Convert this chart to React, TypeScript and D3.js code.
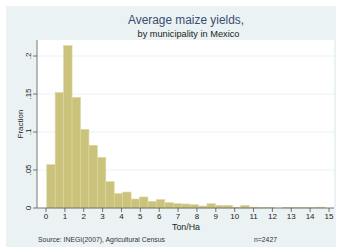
import React from "react";
import * as d3 from "d3";

const binStart = 0.04;
const binWidth = 0.447;
const fractions = [
  0.057, 0.152, 0.2136, 0.1456, 0.1035, 0.0825, 0.0667, 0.0346, 0.019, 0.021,
  0.0118, 0.0145, 0.0088, 0.011, 0.007, 0.0057, 0.0053, 0.0044, 0.0026, 0.0057,
  0.0035, 0.0035, 0.0012, 0.0035, 0.0012, 0.0004, 0.0008, 0.0, 0.0008, 0.0008,
  0.0004, 0.0008, 0.0012,
];
const xTicks = d3.range(0, 16);
const yTicks = [0, 0.05, 0.1, 0.15, 0.2];
const yTickLabels = ["0", ".05", ".1", ".15", ".2"];

export default function App() {
  const W = 337, H = 247;
  const plot = { left: 37, right: 334, top: 40, bottom: 208 };
  const x = d3.scaleLinear().domain([0, 15]).range([46, 329]);
  const y = d3.scaleLinear().domain([0, 0.2]).range([plot.bottom, 56]);
  const font = "'Liberation Sans', Arial, sans-serif";
  return (
    <svg width={W} height={H} style={{ position: "fixed", left: 0, top: 0 }} fontFamily={font}>
      <rect x={0} y={0} width={W} height={H} fill="#ffffff" />
      <rect x={6} y={6} width={330} height={241} fill="#eaf2f3" />
      <rect x={plot.left} y={plot.top} width={plot.right - plot.left} height={plot.bottom - plot.top} fill="#ffffff" />
      {yTicks.slice(1).map((t) => (
        <line key={t} x1={plot.left} x2={plot.right} y1={y(t)} y2={y(t)} stroke="#eaf2f3" strokeWidth={1} />
      ))}
      {fractions.map((f, i) => {
        const x0 = x(binStart + i * binWidth);
        const x1 = x(binStart + (i + 1) * binWidth);
        return (
          <rect key={i} x={x0} y={y(f)} width={x1 - x0} height={plot.bottom - y(f)}
            fill="#cbc37c" stroke="#ddd7a0" strokeWidth={0.6} />
        );
      })}
      <line x1={plot.left} x2={plot.left} y1={plot.top} y2={plot.bottom} stroke="#555" strokeWidth={0.8} />
      <line x1={plot.left} x2={plot.right} y1={plot.bottom} y2={plot.bottom} stroke="#555" strokeWidth={0.8} />
      {yTicks.map((t, i) => (
        <g key={t}>
          <line x1={plot.left - 4} x2={plot.left} y1={y(t)} y2={y(t)} stroke="#555" strokeWidth={0.8} />
          <text transform={`translate(31,${y(t)}) rotate(-90)`} textAnchor="middle" fontSize={8} fill="#222">
            {yTickLabels[i]}
          </text>
        </g>
      ))}
      {xTicks.map((t) => (
        <g key={t}>
          <line x1={x(t)} x2={x(t)} y1={plot.bottom} y2={plot.bottom + 4} stroke="#555" strokeWidth={0.8} />
          <text x={x(t)} y={218.5} textAnchor="middle" fontSize={8} fill="#222">{t}</text>
        </g>
      ))}
      <text transform={`translate(22.5,${(plot.top + plot.bottom) / 2}) rotate(-90)`} textAnchor="middle" fontSize={8} fill="#222">
        Fraction
      </text>
      <text x={186} y={230} textAnchor="middle" fontSize={8.5} fill="#222" textLength={28} lengthAdjust="spacingAndGlyphs">Ton/Ha</text>
      <text x={186} y={24} textAnchor="middle" fontSize={12} fill="#3a4c70" textLength={116} lengthAdjust="spacingAndGlyphs">Average maize yields,</text>
      <text x={188.5} y={36.7} textAnchor="middle" fontSize={8.5} fill="#222" textLength={102} lengthAdjust="spacingAndGlyphs">by municipality in Mexico</text>
      <text x={38} y={241.5} fontSize={6.5} fill="#333" textLength={127} lengthAdjust="spacingAndGlyphs">Source: INEGI(2007), Agricultural Census</text>
      <text x={254} y={241.5} fontSize={6.5} fill="#333" textLength={23} lengthAdjust="spacingAndGlyphs">n=2427</text>
    </svg>
  );
}
